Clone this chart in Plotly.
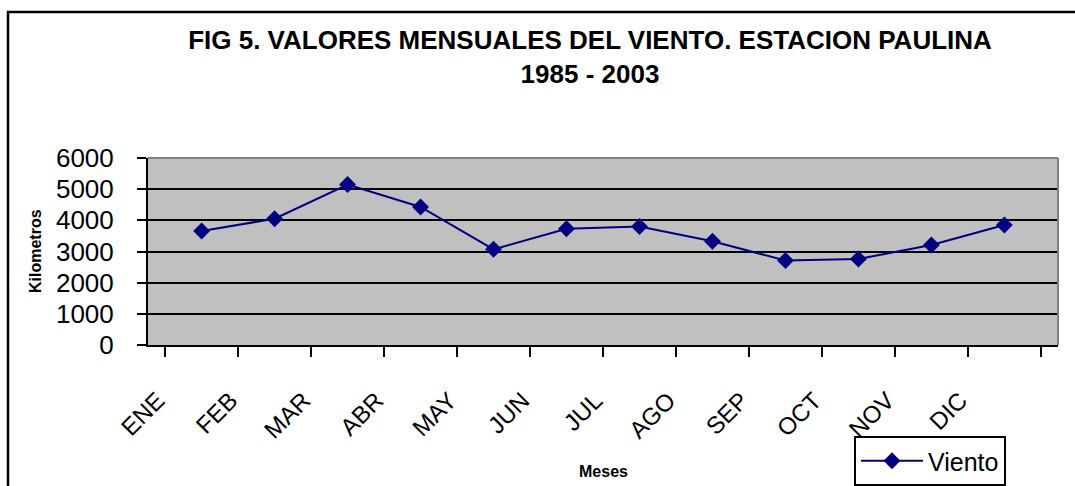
import plotly.graph_objects as go

meses = ["ENE", "FEB", "MAR", "ABR", "MAY", "JUN", "JUL", "AGO", "SEP", "OCT", "NOV", "DIC"]
viento = [3660, 4050, 5150, 4430, 3070, 3730, 3800, 3330, 2710, 2760, 3210, 3850]
y_ticks = [0, 1000, 2000, 3000, 4000, 5000, 6000]

FONT = "Liberation Sans, Arial, sans-serif"
NAVY = "#000080"

fig = go.Figure()
fig.add_trace(go.Scatter(
    x=meses, y=viento, name="Viento", mode="lines+markers",
    line=dict(color=NAVY, width=2),
    marker=dict(symbol="diamond", size=13, color=NAVY),
))

L, R, T, B = 148, 17, 158, 141
W, H = 1075, 486
pw, ph = W - L - R, H - T - B

def px_x(p):
    return (p - L) / pw

def px_y(p):
    return (H - B - p) / ph

fig.update_layout(
    width=W, height=H,
    margin=dict(l=L, r=R, t=T, b=B, autoexpand=False),
    paper_bgcolor="white",
    plot_bgcolor="#C0C0C0",
    font=dict(family=FONT, color="black"),
    title=dict(
        text="<b>FIG 5. VALORES MENSUALES DEL VIENTO. ESTACION PAULINA<br>1985 - 2003</b>",
        font=dict(size=26, family=FONT, color="black"),
        x=590 / W, xref="container", xanchor="center",
        y=1 - 49 / H, yref="container", yanchor="top",
    ),
    showlegend=True,
    legend=dict(
        x=854 / W, y=1 - 436 / H, xanchor="left", yanchor="top",
        xref="container", yref="container",
        bgcolor="white", bordercolor="black", borderwidth=2,
        itemwidth=62,
        font=dict(size=25, family=FONT, color="black"),
    ),
    xaxis=dict(
        type="category",
        automargin=False,
        showgrid=False,
        showline=True, linecolor="black", linewidth=2,
        ticks="outside", tickson="boundaries", ticklen=10, tickwidth=2, tickcolor="black",
        tickangle=-45,
        tickfont=dict(size=24, family=FONT, color="black"),
        ticklabelstandoff=30, ticklabelshift=-44,
        zeroline=False,
    ),
    yaxis=dict(
        automargin=False,
        range=[0, 6000],
        tickvals=y_ticks,
        showgrid=True, gridcolor="black", gridwidth=2,
        showline=True, linecolor="black", linewidth=2,
        ticks="outside", ticklen=9, tickwidth=2, tickcolor="black",
        tickfont=dict(size=26, family=FONT, color="black"),
        ticklabelstandoff=18,
        zeroline=False,
    ),
    shapes=[
        dict(type="line", xref="paper", yref="paper", x0=0, x1=1, y0=1, y1=1,
             line=dict(color="#808080", width=2), layer="above"),
        dict(type="line", xref="paper", yref="paper", x0=1, x1=1, y0=0, y1=1,
             line=dict(color="#808080", width=2), layer="above"),
        dict(type="rect", xref="paper", yref="paper",
             x0=px_x(8), x1=px_x(1200), y0=px_y(600), y1=px_y(12),
             line=dict(color="black", width=2.5), layer="below"),
    ],
    annotations=[
        dict(text="<b>Kilometros</b>", textangle=-90, x=px_x(35), y=px_y(251),
             xref="paper", yref="paper", xanchor="center", yanchor="middle",
             showarrow=False, font=dict(size=16, family=FONT, color="black")),
        dict(text="<b>Meses</b>", x=px_x(603), y=px_y(471),
             xref="paper", yref="paper", xanchor="center", yanchor="middle",
             showarrow=False, font=dict(size=16, family=FONT, color="black")),
    ],
)

fig.write_html("out.html", config={"displayModeBar": False},
               post_script="document.body.style.margin='0';")
